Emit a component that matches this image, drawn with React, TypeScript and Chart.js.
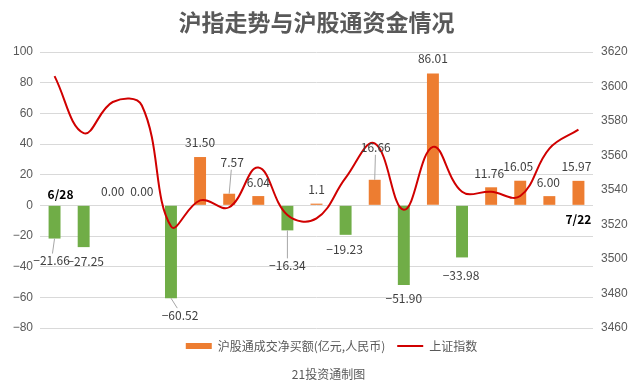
import React, { useEffect, useRef } from 'react';
import { Chart, registerables } from 'chart.js';

Chart.register(...registerables);

const titleText = '沪指走势与沪股通资金情况';
const footerText = '21投资通制图';
const barSeriesName = '沪股通成交净买额(亿元,人民币)';
const lineSeriesName = '上证指数';

const categories = ['6/28', '6/29', '6/30', '7/1', '7/2', '7/5', '7/6', '7/7', '7/8', '7/9', '7/12', '7/13', '7/14', '7/15', '7/16', '7/19', '7/20', '7/21', '7/22'];
const netBuy = [-21.66, -27.25, 0, 0, -60.52, 31.5, 7.57, 6.04, -16.34, 1.1, -19.23, 16.66, -51.9, 86.01, -33.98, 11.76, 16.05, 6.0, 15.97];
const netBuyLabels = ['−21.66', '−27.25', '0.00', '0.00', '−60.52', '31.50', '7.57', '6.04', '−16.34', '1.1', '−19.23', '16.66', '−51.90', '86.01', '−33.98', '11.76', '16.05', '6.00', '15.97'];
const shIndex = [3606, 3573, 3591, 3589, 3519, 3534, 3530, 3553, 3525.5, 3523.5, 3547, 3567, 3528.5, 3565, 3539, 3539, 3536.5, 3564, 3575];

const leftMin = -80;
const leftMax = 100;
const leftStep = 20;
const rightMin = 3460;
const rightMax = 3620;
const rightStep = 20;

// layout-only: pixel nudges of the data labels relative to their default anchor
const labelShift: [number, number][] = [
  [-3, 8], [2, 0], [0, 0], [0, 0], [9, 3], [0, -1], [3, -17], [0, 0], [0, 21], [0, 0],
  [-1, 1], [1, -18], [0, 0], [0, -1], [-1, 4], [-2, 0], [-2, 0], [-1, 0], [-2, 0],
];

const ORANGE = '#ED7D31';
const GREEN = '#70AD47';
const RED = '#D00000';
const GREY_TEXT = '#595959';
const CJK = '"Noto Sans CJK SC", "Noto Sans", sans-serif';
const LEGEND_SHIFT = 15;
const FOOTER_SHIFT = 12;

const fmtTick = (v: number) => (v < 0 ? '−' + Math.abs(v) : String(v));

const overlayPlugin = {
  id: 'overlay',
  afterLayout(chart: any) {
    if (chart.legend) {
      chart.legend.left += LEGEND_SHIFT;
      chart.legend.right += LEGEND_SHIFT;
    }
    const sub = chart.boxes.find((b: any) => b && b.options && b.options.text === footerText);
    if (sub) {
      sub.left += FOOTER_SHIFT;
      sub.right += FOOTER_SHIFT;
    }
  },
  afterDatasetsDraw(chart: any) {
    const ctx = chart.ctx;
    const meta = chart.getDatasetMeta(0);
    const yScale = chart.scales.y;
    const zeroY = yScale.getPixelForValue(0);
    ctx.save();
    ctx.font = '12px ' + CJK;
    ctx.textAlign = 'center';
    ctx.textBaseline = 'middle';
    meta.data.forEach((bar: any, i: number) => {
      const v = netBuy[i];
      const { x, y } = bar.getProps(['x', 'y'], true);
      const dir = v >= 0 ? -1 : 1;
      const [dx, dy] = labelShift[i];
      const tx = x + dx;
      const ty = y + dir * 14 + dy;
      if (Math.abs(dy) > 4 || Math.abs(dx) > 6) {
        ctx.strokeStyle = '#A6A6A6';
        ctx.lineWidth = 1;
        ctx.beginPath();
        ctx.moveTo(x, y);
        ctx.lineTo(tx - dx * 0.3, ty - dir * 7);
        ctx.stroke();
      }
      ctx.fillStyle = '#404040';
      ctx.fillText(netBuyLabels[i], tx, ty);
    });
    // first and last date annotations
    ctx.font = 'bold 12px ' + CJK;
    ctx.fillStyle = '#000000';
    const first = meta.data[0];
    const last = meta.data[meta.data.length - 1];
    ctx.fillText(categories[0], first.x + 6, zeroY - 11);
    ctx.fillText(categories[categories.length - 1], last.x, zeroY + 14);
    ctx.restore();
  },
};

export default function App() {
  const ref = useRef<HTMLCanvasElement | null>(null);
  useEffect(() => {
    if (!ref.current) return;
    const chart = new Chart(ref.current, {
      type: 'bar',
      data: {
        labels: categories,
        datasets: [
          {
            type: 'bar',
            label: barSeriesName,
            data: netBuy,
            backgroundColor: netBuy.map((v) => (v >= 0 ? ORANGE : GREEN)),
            borderWidth: 0,
            barPercentage: 0.41,
            categoryPercentage: 1,
            yAxisID: 'y',
            order: 1,
          },
          {
            type: 'line',
            label: lineSeriesName,
            data: shIndex,
            borderColor: RED,
            backgroundColor: RED,
            borderWidth: 2,
            pointRadius: 0,
            tension: 0.4,
            yAxisID: 'y1',
            order: 0,
          } as any,
        ],
      },
      options: {
        responsive: false,
        animation: false,
        layout: { padding: 0 },
        plugins: {
          title: {
            display: true,
            text: titleText,
            color: GREY_TEXT,
            font: { family: CJK, size: 23, weight: 'bold' },
            padding: { top: 8.2, bottom: 16.2 },
          },
          subtitle: {
            display: true,
            position: 'bottom',
            text: footerText,
            color: GREY_TEXT,
            font: { family: CJK, size: 12, weight: 'normal' },
            padding: { top: 5.6, bottom: 10 },
          },
          legend: {
            display: true,
            position: 'bottom',
            labels: {
              color: GREY_TEXT,
              font: { family: CJK, size: 12 },
              usePointStyle: true,
              pointStyleWidth: 26,
              boxHeight: 6,
              padding: 12,
              generateLabels: () => [
                { text: barSeriesName, fillStyle: ORANGE, strokeStyle: ORANGE, lineWidth: 0, pointStyle: 'rect', hidden: false, datasetIndex: 0, fontColor: GREY_TEXT } as any,
                { text: lineSeriesName, fillStyle: RED, strokeStyle: RED, lineWidth: 2, pointStyle: 'line', hidden: false, datasetIndex: 1, fontColor: GREY_TEXT } as any,
              ],
            },
          },
          tooltip: { enabled: false },
        },
        scales: {
          x: {
            type: 'category',
            display: false,
            offset: true,
          },
          y: {
            position: 'left',
            min: leftMin,
            max: leftMax,
            ticks: {
              stepSize: leftStep,
              color: GREY_TEXT,
              font: { family: '"Liberation Sans", Arial, sans-serif', size: 12 },
              padding: 7,
              callback: (v: any) => fmtTick(Number(v)),
            },
            grid: { color: '#D9D9D9', drawTicks: false, lineWidth: 1 },
            border: { display: false },
            afterFit: (s: any) => {
              s.width = 40;
            },
          },
          y1: {
            position: 'right',
            min: rightMin,
            max: rightMax,
            ticks: {
              stepSize: rightStep,
              color: GREY_TEXT,
              font: { family: '"Liberation Sans", Arial, sans-serif', size: 12 },
              padding: 8,
              callback: (v: any) => String(v),
            },
            grid: { display: false, drawTicks: false },
            border: { display: false },
            afterFit: (s: any) => {
              s.width = 40;
            },
          },
        },
      } as any,
      plugins: [overlayPlugin],
    });
    return () => chart.destroy();
  }, []);
  return (
    <div style={{ position: 'absolute', left: 0, top: 0, width: 633, height: 392, background: '#fff' }}>
      <canvas ref={ref} width={633} height={392} style={{ display: 'block' }} />
    </div>
  );
}
